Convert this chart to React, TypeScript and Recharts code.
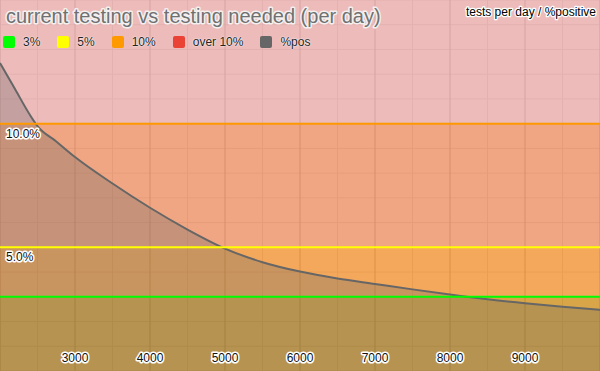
import React from 'react';
import { ComposedChart, Area, XAxis, YAxis, CartesianGrid, ReferenceArea, ReferenceLine } from 'recharts';

// tests per day vs % positive
const testsPerDay = [2000, 2200, 2400, 2500, 2750, 3000, 3500, 4000, 4500, 5000, 5500, 6000, 6500, 7000, 7500, 8000, 8500, 9000, 9500, 10000];
const pctPositive = [12.45, 11.4, 10.35, 9.9, 9.28, 8.65, 7.58, 6.6, 5.72, 4.95, 4.4, 4.02, 3.74, 3.52, 3.3, 3.09, 2.9, 2.74, 2.6, 2.47];

const xTicks = [3000, 4000, 5000, 6000, 7000, 8000, 9000];
const minorTicks = [2500, 3500, 4500, 5500, 6500, 7500, 8500, 9500];
const yTicks = [1, 2, 3, 4, 5, 6, 7, 8, 9, 10, 11, 12, 13, 14];

// background bands (0-3, 3-5, 5-10, over 10)
const bandEdges = [0, 3, 5, 10, 15];
const bandColors = ['#D19628', '#F1993F', '#ED976D', '#EAAFAD'];

// threshold lines
const thresholdLevels = [3, 5, 10];
const thresholdColors = ['#00ff00', '#ffff00', '#ff9900'];
const thresholdLabels = ['', '5.0%', '10.0%'];

const legendNames = ['3%', '5%', '10%', 'over 10%', '%pos'];
const legendColors = ['#00ff00', '#ffff00', '#ff9900', '#ea4335', '#666666'];

const data = testsPerDay.map((t, i) => ({ tests: t, pos: pctPositive[i] }));

const FONT = 'Arial, "Liberation Sans", sans-serif';

const Tick = (props: any) => {
  const { x, payload } = props;
  return (
    <text x={x} y={362} textAnchor="middle" fontSize={12} fontFamily={FONT}
      fill="#111" stroke="#fff" strokeWidth={3} paintOrder="stroke" strokeLinejoin="round">
      {payload.value}
    </text>
  );
};

const lineLabel = (text: string) => (props: any) => {
  if (!text) return null;
  const vb = props.viewBox || {};
  return (
    <text x={(vb.x || 0) + 6} y={(vb.y || 0) + 14} fontSize={12} fontFamily={FONT}
      fill="#111" stroke="#fff" strokeWidth={3} paintOrder="stroke" strokeLinejoin="round">
      {text}
    </text>
  );
};

const App: React.FC = () => {
  return (
    <div style={{ position: 'fixed', left: 0, top: 0, width: 600, height: 371, background: '#fff', fontFamily: FONT }}>
      <ComposedChart width={600} height={371} data={data} margin={{ top: 0, right: 0, bottom: 0, left: 0 }}>
        <XAxis xAxisId="minor" dataKey="tests" type="number" domain={[2000, 10000]} ticks={minorTicks} hide />
        <YAxis type="number" domain={[0, 15]} ticks={yTicks} hide />
        <CartesianGrid xAxisId="minor" stroke="#bcbcbc" />
        <CartesianGrid horizontal={false} stroke="#5f5f5f" />
        {bandColors.map((c, i) => (
          <ReferenceArea key={i} y1={bandEdges[i]} y2={bandEdges[i + 1]} fill={c} fillOpacity={0.85} stroke="none" />
        ))}
        <Area dataKey="pos" type="monotone" stroke="#666" strokeWidth={2} fill="#666" fillOpacity={0.3}
          isAnimationActive={false} dot={false} activeDot={false} />
        {thresholdLevels.map((lv, i) => (
          <ReferenceLine key={lv} y={lv} stroke={thresholdColors[i]} strokeWidth={2} label={lineLabel(thresholdLabels[i])} />
        ))}
        <XAxis dataKey="tests" type="number" domain={[2000, 10000]} ticks={xTicks} interval={0} mirror
          axisLine={false} tickLine={false} tick={<Tick />} />
      </ComposedChart>
      <svg width={600} height={30} style={{ position: 'absolute', left: 0, top: 0 }}>
        <text x={6} y={23} fontSize={20} fontFamily={FONT} fill="#707070" stroke="#f4f0f0" strokeWidth={3}
          paintOrder="stroke" strokeLinejoin="round">
          current testing vs testing needed (per day)
        </text>
        <text x={596} y={16} textAnchor="end" fontSize={12} fontFamily={FONT} fill="#000" stroke="#fff"
          strokeWidth={2.5} paintOrder="stroke" strokeLinejoin="round">
          tests per day / %positive
        </text>
      </svg>
      <div style={{ position: 'absolute', left: 3, top: 36, display: 'flex', alignItems: 'center', fontSize: 12, color: '#222' }}>
        {legendNames.map((n, i) => (
          <div key={n} style={{ display: 'flex', alignItems: 'center', marginRight: 17 }}>
            <span style={{ width: 12, height: 12, background: legendColors[i], borderRadius: 2, marginRight: 8, display: 'inline-block' }} />
            <span style={{ lineHeight: '12px', textShadow: '0 0 2px #fff, 0 0 1px #fff' }}>{n}</span>
          </div>
        ))}
      </div>
    </div>
  );
};

export default App;
